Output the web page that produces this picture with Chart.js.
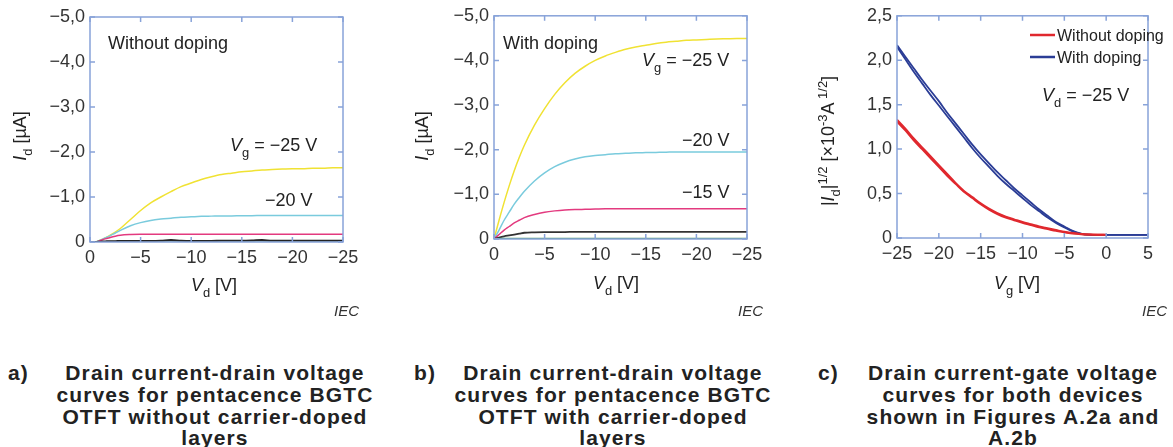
<!DOCTYPE html>
<html>
<head>
<meta charset="utf-8">
<script src="https://cdn.jsdelivr.net/npm/chart.js@4.4.1/dist/chart.umd.min.js"></script>
<style>
  body { margin: 0; background: #fff; width: 1173px; height: 447px; overflow: hidden; position: relative;
         font-family: "Liberation Sans", Arial, sans-serif; }
  canvas { position: absolute; top: 0; }
  .cap { position: absolute; top: 362px; font-weight: bold; font-size: 21px; line-height: 21.8px;
         color: #222; letter-spacing: 1.1px; white-space: nowrap; }
  .cap.txt { width: 420px; text-align: center; }
</style>
</head>
<body>
<canvas id="chartA" style="left:0px" width="380" height="325"></canvas>
<canvas id="chartB" style="left:400px" width="380" height="325"></canvas>
<canvas id="chartC" style="left:790px" width="383" height="325"></canvas>

<div class="cap" style="left:8px">a)</div>
<div class="cap txt" style="left:5px">Drain current-drain voltage<br>curves for pentacence BGTC<br>OTFT without carrier-doped<br>layers</div>
<div class="cap" style="left:414px">b)</div>
<div class="cap txt" style="left:403px">Drain current-drain voltage<br>curves for pentacence BGTC<br>OTFT with carrier-doped<br>layers</div>
<div class="cap" style="left:818px">c)</div>
<div class="cap txt" style="left:803px">Drain current-gate voltage<br>curves for both devices<br>shown in Figures A.2a and<br>A.2b</div>

<script>
const FONT = '"Liberation Sans", Arial, sans-serif';
const TEXT = '#333';
const FRAME = '#88a3d9';

// ticks
const xTicksAB = [0, -5, -10, -15, -20, -25];
const xLabelsAB = ['0', '−5', '−10', '−15', '−20', '−25'];
const yTicksAB = [0, -1, -2, -3, -4, -5];
const yLabelsAB = ['0', '−1,0', '−2,0', '−3,0', '−4,0', '−5,0'];
const xTicksC = [-25, -20, -15, -10, -5, 0, 5];
const xLabelsC = ['−25', '−20', '−15', '−10', '−5', '0', '5'];
const yTicksC = [0, 0.5, 1, 1.5, 2, 2.5];
const yLabelsC = ['0', '0,5', '1,0', '1,5', '2,0', '2,5'];

// drain voltage sweep (V), panels a and b
const vd = [0, -0.5, -1, -1.5, -2, -2.5, -3, -4, -5, -6, -7, -8, -9, -10, -11, -12, -13, -14,
            -15, -16, -17, -18, -19, -20, -21, -22, -23, -24, -25];

// a) without doping, Id (uA)
const aVg25 = [0, 0, -0.04, -0.09, -0.15, -0.22, -0.3, -0.5, -0.7, -0.87, -1.0, -1.12, -1.23, -1.31,
               -1.39, -1.45, -1.5, -1.53, -1.56, -1.58, -1.6, -1.61, -1.62, -1.63, -1.63, -1.64, -1.64, -1.65, -1.65];
const aVg20 = [0, 0, -0.04, -0.09, -0.14, -0.2, -0.26, -0.36, -0.43, -0.48, -0.51, -0.53, -0.55, -0.56,
               -0.57, -0.575, -0.58, -0.58, -0.585, -0.585, -0.59, -0.59, -0.59, -0.59, -0.59, -0.59, -0.59, -0.59, -0.59];
const aVg15 = [0, 0, -0.03, -0.07, -0.1, -0.13, -0.15, -0.165, -0.17, -0.17, -0.175, -0.175, -0.175, -0.175,
               -0.175, -0.175, -0.175, -0.175, -0.175, -0.175, -0.175, -0.175, -0.175, -0.175, -0.175, -0.175, -0.175, -0.175, -0.175];
const aVg10 = [0, 0, -0.01, -0.015, -0.02, -0.02, -0.025, -0.025, -0.025, -0.025, -0.03, -0.045, -0.03, -0.025,
               -0.025, -0.025, -0.03, -0.03, -0.03, -0.035, -0.045, -0.03, -0.03, -0.03, -0.03, -0.03, -0.03, -0.03, -0.03];
const aVg5 = [0, 0, -0.005, -0.005, -0.005, -0.005, -0.005, -0.005, -0.005, -0.005, -0.005, -0.005, -0.005, -0.005,
              -0.005, -0.005, -0.005, -0.005, -0.005, -0.005, -0.005, -0.005, -0.005, -0.005, -0.005, -0.005, -0.005, -0.005, -0.005];

// b) with doping, Id (uA)
const bVg25 = [0, -0.42, -0.82, -1.19, -1.53, -1.83, -2.1, -2.55, -2.92, -3.24, -3.5, -3.71, -3.87, -4.0,
               -4.1, -4.18, -4.25, -4.3, -4.34, -4.38, -4.41, -4.43, -4.45, -4.46, -4.47, -4.48, -4.485, -4.49, -4.49];
const bVg20 = [0, -0.2, -0.42, -0.6, -0.78, -0.93, -1.07, -1.3, -1.48, -1.62, -1.72, -1.79, -1.84, -1.87,
               -1.89, -1.91, -1.92, -1.93, -1.935, -1.94, -1.945, -1.95, -1.95, -1.95, -1.95, -1.95, -1.95, -1.95, -1.95];
const bVg15 = [0, -0.1, -0.2, -0.28, -0.36, -0.42, -0.48, -0.55, -0.6, -0.63, -0.65, -0.66, -0.665, -0.67,
               -0.675, -0.675, -0.68, -0.68, -0.68, -0.68, -0.68, -0.68, -0.68, -0.68, -0.68, -0.68, -0.68, -0.68, -0.68];
const bVg10 = [0, -0.03, -0.06, -0.08, -0.1, -0.12, -0.14, -0.15, -0.155, -0.155, -0.155, -0.16, -0.16, -0.16,
               -0.16, -0.16, -0.16, -0.16, -0.16, -0.16, -0.16, -0.16, -0.16, -0.16, -0.16, -0.16, -0.16, -0.16, -0.16];
const bVg5 = [0, -0.005, -0.01, -0.01, -0.01, -0.01, -0.01, -0.01, -0.01, -0.01, -0.01, -0.01, -0.01, -0.01,
              -0.01, -0.01, -0.01, -0.01, -0.01, -0.01, -0.01, -0.01, -0.01, -0.01, -0.01, -0.01, -0.01, -0.01, -0.01];

// c) gate sweep at Vd = -25 V, |Id|^1/2 (x10^-3 A^1/2)
const vg = [-25, -24, -23, -22, -21, -20, -19, -18, -17, -16, -15, -14, -13, -12, -11, -10,
            -9, -8, -7, -6, -5, -4, -3, -2, -1, 0, 1, 2, 3, 4, 5];
const withFwd = [2.17, 2.04, 1.91, 1.78, 1.66, 1.54, 1.41, 1.29, 1.17, 1.05, 0.94, 0.84, 0.74, 0.65, 0.56, 0.48,
                 0.40, 0.32, 0.25, 0.18, 0.13, 0.08, 0.05, 0.037, 0.035, 0.035, 0.035, 0.035, 0.035, 0.035, 0.035];
const withRev = [2.15, 2.01, 1.87, 1.74, 1.61, 1.49, 1.37, 1.25, 1.13, 1.01, 0.90, 0.80, 0.70, 0.61, 0.53, 0.45,
                 0.37, 0.30, 0.23, 0.17, 0.12, 0.075, 0.047, 0.036, 0.035, 0.035, 0.035, 0.035, 0.035, 0.035, 0.035];
const withoutFwd = [1.33, 1.23, 1.12, 1.02, 0.92, 0.82, 0.72, 0.62, 0.53, 0.46, 0.39, 0.33, 0.28, 0.24, 0.21, 0.18,
                    0.155, 0.13, 0.11, 0.09, 0.07, 0.055, 0.045, 0.04, 0.037, 0.036, null, null, null, null, null];
const withoutRev = [1.31, 1.21, 1.10, 1.00, 0.90, 0.80, 0.70, 0.61, 0.52, 0.45, 0.38, 0.32, 0.27, 0.23, 0.20, 0.17,
                    0.145, 0.12, 0.10, 0.08, 0.065, 0.05, 0.042, 0.038, 0.036, 0.035, null, null, null, null, null];

function setFont(ctx, style, size) {
  const s = (style === 'sub' || style === 'sup') ? size * 0.72 : size;
  ctx.font = (style === 'i' ? 'italic ' : '') + s + 'px ' + FONT;
}

// parts: [text, style], style '' | 'i' | 'sub' | 'sup'
function drawRich(ctx, parts, x, cy, size, align) {
  let w = 0;
  parts.forEach(p => { setFont(ctx, p[1], size); w += ctx.measureText(p[0]).width; });
  let cx = align === 'center' ? x - w / 2 : align === 'right' ? x - w : x;
  const base = cy + size * 0.36;
  ctx.textAlign = 'left';
  ctx.textBaseline = 'alphabetic';
  parts.forEach(p => {
    setFont(ctx, p[1], size);
    const dy = p[1] === 'sub' ? size * 0.28 : p[1] === 'sup' ? -size * 0.4 : 0;
    ctx.fillText(p[0], cx, base + dy);
    cx += ctx.measureText(p[0]).width;
  });
}

function makeDecor(cfg) {
  return {
    id: 'decor',
    afterDatasetsDraw(chart) {
      const { ctx, chartArea: a, scales: { x, y } } = chart;
      ctx.save();
      ctx.strokeStyle = FRAME;
      ctx.lineWidth = 1.5;
      ctx.strokeRect(a.left, a.top, a.right - a.left, a.bottom - a.top);
      ctx.beginPath();
      x.ticks.forEach(t => {
        const p = x.getPixelForValue(t.value);
        ctx.moveTo(p, a.bottom); ctx.lineTo(p, a.bottom - 5);
        ctx.moveTo(p, a.top); ctx.lineTo(p, a.top + 5);
      });
      y.ticks.forEach(t => {
        const p = y.getPixelForValue(t.value);
        ctx.moveTo(a.left, p); ctx.lineTo(a.left + 5, p);
        ctx.moveTo(a.right, p); ctx.lineTo(a.right - 5, p);
      });
      ctx.stroke();

      ctx.fillStyle = '#222';
      cfg.notes.forEach(n => drawRich(ctx, n.parts, n.x, n.y, n.size || 18, 'left'));
      drawRich(ctx, cfg.xTitle, cfg.xTitleAt[0], cfg.xTitleAt[1], 18, 'center');
      ctx.save();
      ctx.translate(cfg.yTitleAt[0], cfg.yTitleAt[1]);
      ctx.rotate(-Math.PI / 2);
      drawRich(ctx, cfg.yTitle, 0, 0, 18, 'center');
      ctx.restore();
      setFont(ctx, 'i', 15);
      ctx.fillStyle = '#333';
      ctx.textAlign = 'right';
      ctx.textBaseline = 'middle';
      ctx.fillText('IEC', cfg.iecAt[0], cfg.iecAt[1]);

      if (cfg.legend) {
        cfg.legend.forEach(l => {
          ctx.strokeStyle = chart.data.datasets[l.ds].borderColor;
          ctx.lineWidth = 2.5;
          ctx.beginPath(); ctx.moveTo(l.x, l.y); ctx.lineTo(l.x + 25, l.y); ctx.stroke();
          ctx.fillStyle = '#222';
          drawRich(ctx, [[l.text, '']], l.x + 27, l.y, 16, 'left');
        });
      }
      ctx.restore();
    }
  };
}

function axis(vals, labels, min, max, reverse, fit) {
  return {
    type: 'linear', min: min, max: max, reverse: reverse,
    afterBuildTicks: s => { s.ticks = vals.map(v => ({ value: v })); },
    afterFit: fit,
    grid: { display: false, drawTicks: false },
    border: { display: false },
    ticks: {
      color: TEXT, font: { size: 18, family: FONT }, padding: 5, autoSkip: false, maxRotation: 0,
      callback: v => labels[vals.indexOf(v)]
    }
  };
}

function line(xs, ys, color, width) {
  return {
    data: xs.map((v, i) => ({ x: v, y: ys[i] })),
    borderColor: color, borderWidth: width || 1.5,
    pointRadius: 0, fill: false, cubicInterpolationMode: 'monotone'
  };
}

function makeChart(id, datasets, scales, pad, decor) {
  return new Chart(document.getElementById(id), {
    type: 'line',
    data: { datasets: datasets },
    options: {
      responsive: false, animation: false,
      layout: { padding: pad },
      parsing: false,
      plugins: { legend: { display: false }, tooltip: { enabled: false } },
      scales: scales
    },
    plugins: [makeDecor(decor)]
  });
}

const YELLOW = '#f0e233', CYAN = '#7acbdd', MAGENTA = '#e33a7f', BLACK = '#222222', GREEN = '#4f9a6c';

makeChart('chartA', [
  line(vd, aVg10, BLACK, 1.8),
  line(vd, aVg5, '#8fb5a3', 1.5),
  line(vd, aVg15, MAGENTA),
  line(vd, aVg20, CYAN),
  line(vd, aVg25, YELLOW)
], {
  x: axis(xTicksAB, xLabelsAB, -25, 0, true, s => { s.height = 83; }),
  y: axis(yTicksAB, yLabelsAB, -5, 0, true, s => { s.width = 90; })
}, { top: 17, right: 37, left: 0, bottom: 0 }, {
  notes: [
    { parts: [['Without doping', '']], x: 108, y: 43 },
    { parts: [['V', 'i'], ['g', 'sub'], [' = −25 V', '']], x: 230, y: 145 },
    { parts: [['−20 V', '']], x: 265, y: 200 }
  ],
  xTitle: [['V', 'i'], ['d', 'sub'], [' [V]', '']], xTitleAt: [214, 285],
  yTitle: [['I', 'i'], ['d', 'sub'], [' [µA]', '']], yTitleAt: [20, 136],
  iecAt: [359, 312]
});

makeChart('chartB', [
  line(vd, bVg5, GREEN, 1.8),
  line(vd, bVg10, '#333333', 1.8),
  line(vd, bVg15, MAGENTA),
  line(vd, bVg20, CYAN),
  line(vd, bVg25, YELLOW)
], {
  x: axis(xTicksAB, xLabelsAB, -25, 0, true, s => { s.height = 86; }),
  y: axis(yTicksAB, yLabelsAB, -5, 0, true, s => { s.width = 94; })
}, { top: 15, right: 33, left: 0, bottom: 0 }, {
  notes: [
    { parts: [['With doping', '']], x: 103, y: 43 },
    { parts: [['V', 'i'], ['g', 'sub'], [' = −25 V', '']], x: 242, y: 60 },
    { parts: [['−20 V', '']], x: 282, y: 140 },
    { parts: [['−15 V', '']], x: 282, y: 192 }
  ],
  xTitle: [['V', 'i'], ['d', 'sub'], [' [V]', '']], xTitleAt: [216, 283],
  yTitle: [['I', 'i'], ['d', 'sub'], [' [µA]', '']], yTitleAt: [22, 136],
  iecAt: [363, 312]
});

const RED = '#e0282e', BLUE = '#2b3d96';
makeChart('chartC', [
  line(vg, withoutFwd, RED, 2),
  line(vg, withoutRev, RED, 2),
  line(vg, withFwd, BLUE, 1.8),
  line(vg, withRev, BLUE, 1.8)
], {
  x: axis(xTicksC, xLabelsC, -25, 5, false, s => { s.height = 87; }),
  y: axis(yTicksC, yLabelsC, 0, 2.5, false, s => { s.width = 107; })
}, { top: 15, right: 25, left: 0, bottom: 0 }, {
  notes: [
    { parts: [['V', 'i'], ['d', 'sub'], [' = −25 V', '']], x: 252, y: 95 }
  ],
  legend: [
    { ds: 0, text: 'Without doping', x: 240, y: 35 },
    { ds: 2, text: 'With doping', x: 240, y: 57 }
  ],
  xTitle: [['V', 'i'], ['g', 'sub'], [' [V]', '']], xTitleAt: [227, 283],
  yTitle: [['|', ''], ['I', 'i'], ['d', 'sub'], ['|', ''], ['1/2', 'sup'], [' [×10', ''], ['-3', 'sup'], ['A', ''], [' 1/2', 'sup'], [']', '']],
  yTitleAt: [38, 141],
  iecAt: [377, 312]
});
</script>
</body>
</html>
